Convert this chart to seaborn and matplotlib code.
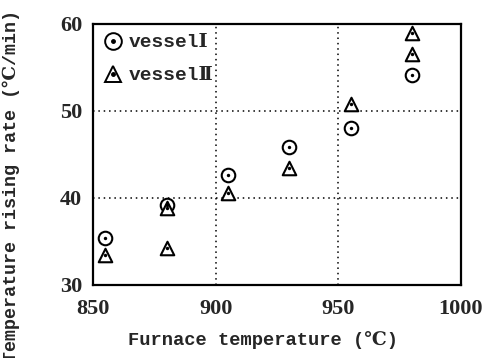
import matplotlib
matplotlib.use("Agg")
import matplotlib.pyplot as plt
import seaborn as sns
import pandas as pd
from matplotlib.lines import Line2D
from matplotlib.legend_handler import HandlerTuple

# ---- data ----
v1_temp = [855, 880, 905, 930, 955, 980]
v1_rate = [35.4, 39.2, 42.6, 45.9, 48.0, 54.1]
v2_temp = [855, 880, 880, 905, 930, 955, 980, 980]
v2_rate = [33.5, 38.8, 34.2, 40.6, 43.4, 50.8, 56.5, 59.0]
series_labels = ["vessel\u2160", "vessel\u2161"]
x_ticks = [850, 900, 950, 1000]
y_ticks = [30, 40, 50, 60]

sns.set_theme(style="white")
fam = ["Liberation Mono", "DejaVu Serif", "DejaVu Sans", "Noto Sans CJK JP"]
tick_fam = ["Liberation Serif", "DejaVu Serif"]
plt.rcParams["font.family"] = fam

df1 = pd.DataFrame({"x": v1_temp, "y": v1_rate})
df2 = pd.DataFrame({"x": v2_temp, "y": v2_rate})

fig = plt.figure(figsize=(4.83, 3.58), dpi=100)
ax = fig.add_axes([0.193, 0.204, 0.761, 0.729])

ms = 95
sns.scatterplot(data=df1, x="x", y="y", marker="o", s=ms, facecolor="white",
                edgecolor="black", linewidth=1.5, ax=ax, zorder=3)
sns.scatterplot(data=df2, x="x", y="y", marker="^", s=ms, facecolor="white",
                edgecolor="black", linewidth=1.5, ax=ax, zorder=3)
sns.scatterplot(data=pd.concat([df1, df2]), x="x", y="y", marker="o", s=6,
                color="black", linewidth=0, ax=ax, zorder=4)

ax.set_xlim(850, 1000)
ax.set_ylim(30, 60)
ax.set_xticks(x_ticks)
ax.set_yticks(y_ticks)
ax.set_xticklabels([str(t) for t in x_ticks], family=tick_fam, fontsize=16,
                   fontweight="bold")
ax.set_yticklabels([str(t) for t in y_ticks], family=tick_fam, fontsize=16,
                   fontweight="bold")
ax.tick_params(axis="x", length=0, pad=10)
ax.tick_params(axis="y", length=0, pad=8)
ax.set_xlabel("")
ax.set_ylabel("")

for v in [900, 950]:
    ax.axvline(v, color="black", linestyle=(0, (1, 2.5)), linewidth=1.1, zorder=1)
for v in [40, 50]:
    ax.axhline(v, color="black", linestyle=(0, (1, 2.5)), linewidth=1.1, zorder=1)

for s in ax.spines.values():
    s.set_color("black")
    s.set_linewidth(1.6)
    s.set_visible(True)

fig.text(0.545, 0.025, "Furnace temperature (\u2103)", ha="center", va="bottom",
         fontsize=13.5, fontweight="bold")
fig.text(0.005, 0.48, "Temperature rising rate (\u2103/min)", rotation=90,
         ha="left", va="center", fontsize=13.2, fontweight="bold")

h1 = (Line2D([], [], marker="o", ls="", mfc="white", mec="black", ms=12, mew=1.4),
      Line2D([], [], marker="o", ls="", color="black", ms=2.5))
h2 = (Line2D([], [], marker="^", ls="", mfc="white", mec="black", ms=11, mew=1.4),
      Line2D([], [], marker="o", ls="", color="black", ms=2.5))
ax.legend([h1, h2], series_labels, handler_map={tuple: HandlerTuple(ndivide=1)},
          loc="upper left", frameon=False,
          prop={"weight": "bold", "size": 14}, handlelength=1.0,
          handletextpad=0.3, borderaxespad=0.1, labelspacing=0.8,
          bbox_to_anchor=(0.0, 1.0))

fig.savefig("out.png", dpi=100)
